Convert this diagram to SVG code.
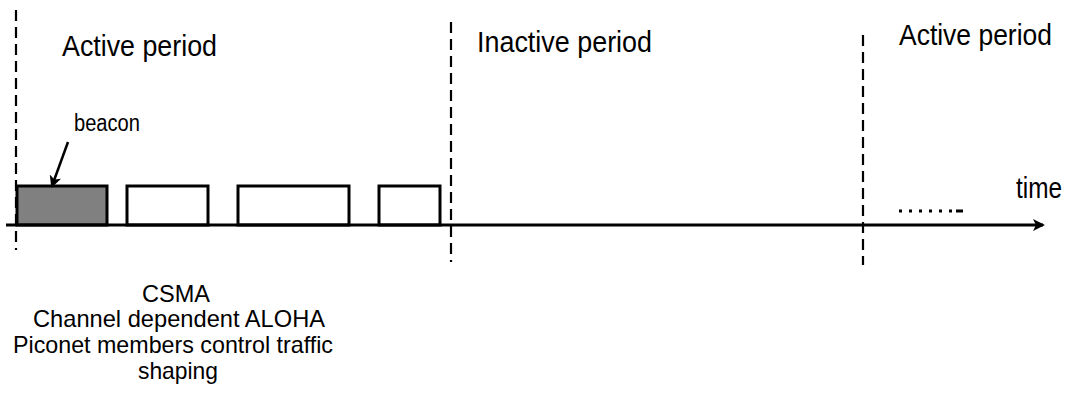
<svg xmlns="http://www.w3.org/2000/svg" width="1071" height="412" viewBox="0 0 1071 412">
  <style>
    .lbl { font-family: "Liberation Sans", Arial, sans-serif; fill: #000; }
    .big { font-size: 30px; }
    .mid { font-size: 24px; }
    .small { font-size: 23px; }
    .bound { stroke: #000; stroke-width: 2.2; stroke-dasharray: 11 6; fill: none; }
    .slot { fill: #fff; stroke: #000; stroke-width: 3; }
    .beacon { fill: #808080; stroke: #000; stroke-width: 3; }
    .axis { stroke: #000; stroke-width: 3; fill: none; }
  </style>
  <defs>
    <marker id="arrow" markerWidth="12" markerHeight="12" refX="10" refY="6" orient="auto" markerUnits="userSpaceOnUse">
      <path d="M0,0 L12,6 L0,12 L3,6 Z" fill="#000"/>
    </marker>
  </defs>

  <rect width="1071" height="412" fill="#fff"/>

  <!-- period boundaries -->
  <g id="boundaries">
    <line class="bound" x1="16" y1="10" x2="16" y2="250"/>
    <line class="bound" x1="451" y1="22" x2="451" y2="262"/>
    <line class="bound" x1="863" y1="35" x2="863" y2="265"/>
  </g>

  <!-- period labels -->
  <g id="label-active-1">
    <text class="lbl big" x="62" y="56" textLength="155" lengthAdjust="spacingAndGlyphs">Active period</text>
  </g>
  <g id="label-inactive">
    <text class="lbl big" x="477" y="52" textLength="175" lengthAdjust="spacingAndGlyphs">Inactive period</text>
  </g>
  <g id="label-active-2">
    <text class="lbl big" x="899" y="45" textLength="153" lengthAdjust="spacingAndGlyphs">Active period</text>
  </g>

  <!-- slots on the time axis -->
  <g id="slot-beacon">
    <rect class="beacon" x="17" y="186" width="90" height="39"/>
  </g>
  <g id="slot-2">
    <rect class="slot" x="127" y="186" width="81" height="39"/>
  </g>
  <g id="slot-3">
    <rect class="slot" x="238" y="186" width="111" height="39"/>
  </g>
  <g id="slot-4">
    <rect class="slot" x="379" y="186" width="61" height="39"/>
  </g>

  <g id="label-beacon">
    <text class="lbl small" x="74" y="131" textLength="66" lengthAdjust="spacingAndGlyphs">beacon</text>
  </g>

  <g id="label-time">
    <text class="lbl big" x="1016" y="198" textLength="46" lengthAdjust="spacingAndGlyphs">time</text>
  </g>

  <!-- continuation dots -->
  <g id="ellipsis">
    <path d="M899,211 H952" stroke="#000" stroke-width="3" stroke-dasharray="3 7" fill="none"/>
    <path d="M956,211 H963" stroke="#000" stroke-width="3" fill="none"/>
  </g>

  <!-- connectors -->
  <g id="connectors">
    <line class="axis" x1="6" y1="225" x2="1043" y2="225" marker-end="url(#arrow)"/>
    <line x1="68" y1="142" x2="52" y2="186" stroke="#000" stroke-width="2.5" marker-end="url(#arrow)"/>
  </g>

  <!-- access methods -->
  <g id="label-methods">
    <text class="lbl mid" x="176" y="302" text-anchor="middle" textLength="68" lengthAdjust="spacingAndGlyphs">CSMA</text>
    <text class="lbl mid" x="179" y="327" text-anchor="middle" textLength="292" lengthAdjust="spacingAndGlyphs">Channel dependent ALOHA</text>
    <text class="lbl mid" x="173" y="353" text-anchor="middle" textLength="320" lengthAdjust="spacingAndGlyphs">Piconet members control traffic</text>
    <text class="lbl mid" x="178" y="379" text-anchor="middle" textLength="80" lengthAdjust="spacingAndGlyphs">shaping</text>
  </g>
</svg>
